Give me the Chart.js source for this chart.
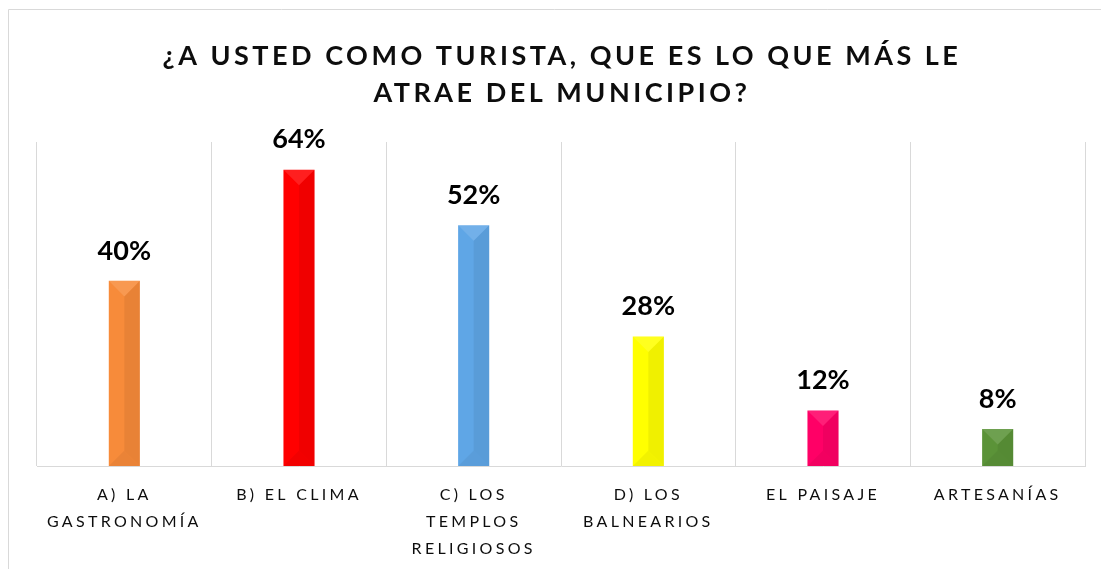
<!DOCTYPE html>
<html>
<head>
<meta charset="utf-8">
<script src="https://cdn.jsdelivr.net/npm/chart.js@4/dist/chart.umd.min.js"></script>
<style>
  html, body { margin: 0; padding: 0; background: #ffffff; }
  #wrap { position: absolute; left: 0; top: 0; width: 1101px; height: 569px; }
</style>
</head>
<body>
<div id="wrap"><canvas id="c" width="1101" height="569"></canvas></div>
<script>
const titleLines = ['¿A USTED COMO TURISTA, QUE ES LO QUE MÁS LE', 'ATRAE DEL MUNICIPIO?'];
const categories = [
  ['A) LA', 'GASTRONOMÍA'],
  ['B) EL CLIMA'],
  ['C) LOS', 'TEMPLOS', 'RELIGIOSOS'],
  ['D) LOS', 'BALNEARIOS'],
  ['EL PAISAJE'],
  ['ARTESANÍAS']
];
const values = [40, 64, 52, 28, 12, 8];
const valueLabels = ['40%', '64%', '52%', '28%', '12%', '8%'];
const barColors = ['#F78B3A', '#FF0000', '#5FA6E6', '#FFFF00', '#FF0066', '#5B9338'];

const decorPlugin = {
  id: 'decor',
  beforeDraw(chart) {
    const ctx = chart.ctx;
    ctx.save();
    ctx.strokeStyle = '#d9d9d9';
    ctx.lineWidth = 1;
    ctx.beginPath();
    ctx.moveTo(8.5, 569);
    ctx.lineTo(8.5, 9.5);
    ctx.lineTo(1101, 9.5);
    ctx.stroke();
    ctx.restore();
    ctx.letterSpacing = '3.3px';
  },
  afterDatasetsDraw(chart) {
    const ctx = chart.ctx;
    const meta = chart.getDatasetMeta(0);
    ctx.save();
    meta.data.forEach((bar) => {
      const w = bar.width;
      const left = bar.x - w / 2;
      const top = bar.y;
      const bottom = bar.base;
      const bev = Math.min(w / 2, (bottom - top) / 2);
      ctx.fillStyle = 'rgba(0,0,0,0.06)';
      ctx.beginPath();
      ctx.moveTo(bar.x, top + bev);
      ctx.lineTo(left + w, top);
      ctx.lineTo(left + w, bottom);
      ctx.lineTo(bar.x, bottom - bev);
      ctx.closePath();
      ctx.fill();
      ctx.fillStyle = 'rgba(255,255,255,0.12)';
      ctx.beginPath();
      ctx.moveTo(left, top);
      ctx.lineTo(left + w, top);
      ctx.lineTo(bar.x, top + bev);
      ctx.closePath();
      ctx.fill();
      ctx.fillStyle = 'rgba(0,0,0,0.05)';
      ctx.beginPath();
      ctx.moveTo(left, bottom);
      ctx.lineTo(left + w, bottom);
      ctx.lineTo(bar.x, bottom - bev);
      ctx.closePath();
      ctx.fill();
    });
    ctx.restore();
  },
  afterDraw(chart) {
    const ctx = chart.ctx;
    const meta = chart.getDatasetMeta(0);
    ctx.save();
    ctx.letterSpacing = '0px';
    ctx.fillStyle = '#000000';
    ctx.textAlign = 'center';
    ctx.textBaseline = 'middle';
    ctx.font = 'bold 27px Lato, "Open Sans", sans-serif';
    meta.data.forEach((bar, i) => {
      ctx.fillText(valueLabels[i], bar.x, bar.y - 30);
    });
    ctx.letterSpacing = '3.5px';
    ctx.font = 'bold 27px Lato, "Open Sans", sans-serif';
    ctx.fillStyle = '#0d0d0d';
    ctx.fillText(titleLines[0], 562, 56);
    ctx.fillText(titleLines[1], 562, 93);
    ctx.restore();
  }
};

new Chart(document.getElementById('c'), {
  type: 'bar',
  data: {
    labels: categories,
    datasets: [{
      data: values,
      backgroundColor: barColors,
      borderWidth: 0,
      categoryPercentage: 1.0,
      barPercentage: 0.178
    }]
  },
  options: {
    responsive: false,
    animation: false,
    events: [],
    layout: { padding: { left: 37, right: 16, top: 142, bottom: 0 } },
    plugins: {
      legend: { display: false },
      title: { display: false },
      tooltip: { enabled: false }
    },
    scales: {
      x: {
        grid: { display: true, color: '#d9d9d9', drawTicks: false, offset: true },
        border: { display: true, color: '#d9d9d9' },
        ticks: {
          color: '#0d0d0d',
          font: { family: 'Lato, "Open Sans", sans-serif', size: 16, lineHeight: 1.7 },
          padding: 15,
          maxRotation: 0,
          autoSkip: false
        },
        afterFit(scale) { scale.height = 569 - 466; }
      },
      y: {
        display: false,
        min: 0,
        max: 70
      }
    }
  },
  plugins: [decorPlugin]
});
</script>
</body>
</html>
